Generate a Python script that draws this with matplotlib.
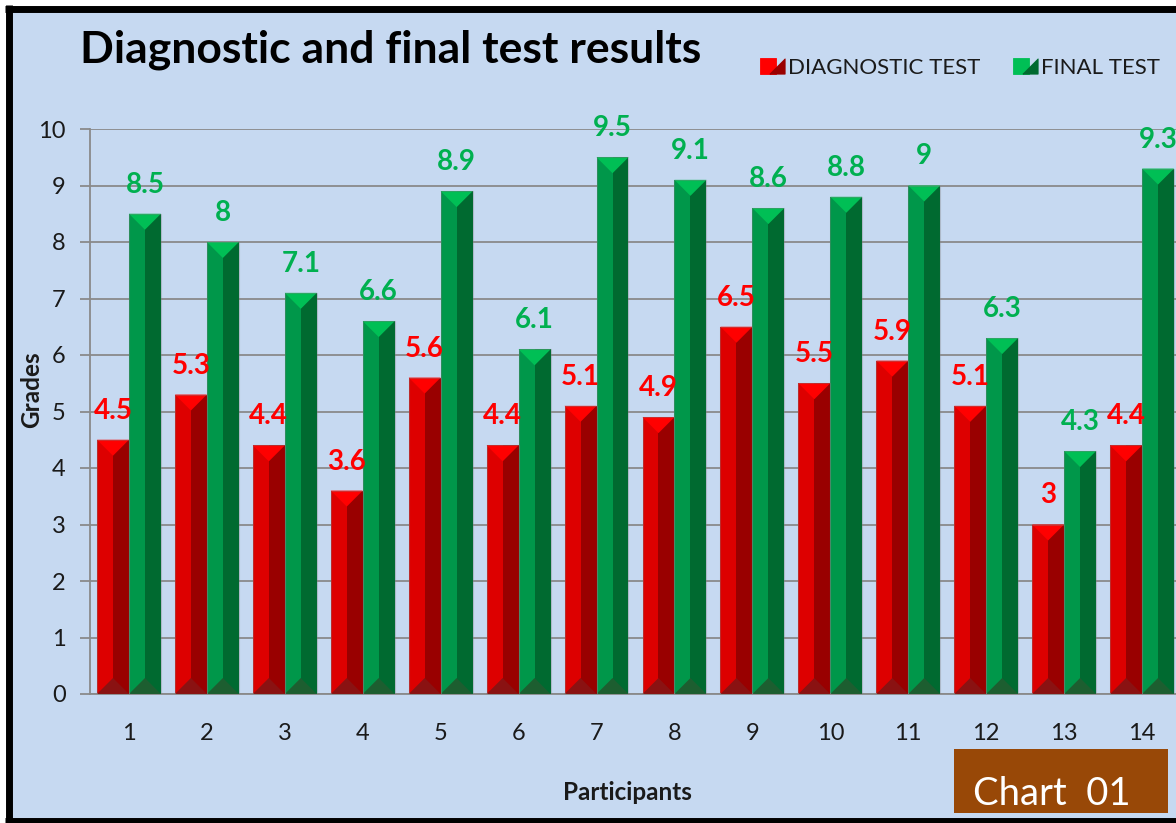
import matplotlib
matplotlib.use('Agg')
import matplotlib.pyplot as plt
import numpy as np
from matplotlib.patches import Rectangle
from matplotlib.lines import Line2D
from matplotlib.legend_handler import HandlerTuple

plt.rcParams['font.family'] = ['Lato', 'DejaVu Sans']

# ---------------- data ----------------
participants = ['1', '2', '3', '4', '5', '6', '7', '8', '9', '10', '11', '12', '13', '14']
diagnostic = [4.5, 5.3, 4.4, 3.6, 5.6, 4.4, 5.1, 4.9, 6.5, 5.5, 5.9, 5.1, 3.0, 4.4]
final = [8.5, 8.0, 7.1, 6.6, 8.9, 6.1, 9.5, 9.1, 8.6, 8.8, 9.0, 6.3, 4.3, 9.3]
series_names = ['DIAGNOSTIC TEST', 'FINAL TEST']
y_ticks = [0, 1, 2, 3, 4, 5, 6, 7, 8, 9, 10]

# ---------------- style ----------------
BG = '#c6d9f1'
GRID = '#8a8a8a'
TXT = '#1a1a1a'
RED = dict(light='#dd0000', dark='#990000', top='#ff0000', bottom='#8a1212', label='#ff0000')
GREEN = dict(light='#00974a', dark='#006a30', top='#00bf55', bottom='#1d5e30', label='#00b050')

W, H = 1176, 823
fig = plt.figure(figsize=(W / 100, H / 100), dpi=100)
fig.patch.set_facecolor('white')


def fx(px):
    return px / W


def fy(py):
    return 1 - py / H


# chart area background and black frame (top, left, bottom)
fig.add_artist(Rectangle((fx(8.5), fy(821)), 1.0, fy(8.5) - fy(821),
                         transform=fig.transFigure, facecolor=BG, edgecolor='none', zorder=0))
for xs, ys in [((5, 1176), (8.5, 8.5)), ((8.5, 8.5), (5, 823)), ((5, 1176), (821, 821))]:
    fig.add_artist(Line2D([fx(xs[0]), fx(xs[1])], [fy(ys[0]), fy(ys[1])],
                          transform=fig.transFigure, color='black', linewidth=5,
                          solid_capstyle='butt', zorder=1))

ax_l, ax_r, ax_t, ax_b = 90, 1181, 129, 694
ax = fig.add_axes([fx(ax_l), fy(ax_b), fx(ax_r) - fx(ax_l), fy(ax_t) - fy(ax_b)])
ax.set_facecolor('none')

n = len(participants)
x = np.arange(1, n + 1)
ax.set_xlim(0.5, n + 0.5)
ax.set_ylim(0, 10)

bw = 0.41
px_per_x = (ax_r - ax_l) / n
px_per_y = (ax_b - ax_t) / 10.0
d = (bw * px_per_x / 2) / px_per_y  # bevel depth in data units


def bevel_bars(centers, vals, c):
    ax.bar(centers, vals, width=bw, color=c['light'], zorder=2, linewidth=0)
    ax.bar(centers + bw / 4, vals, width=bw / 2, color=c['dark'], zorder=3, linewidth=0)
    for cx, v in zip(centers, vals):
        x0, x1 = cx - bw / 2, cx + bw / 2
        ax.fill([x0, x1, cx], [v, v, v - d], color=c['top'], zorder=4, linewidth=0)
        ax.fill([x0, x1, cx], [0, 0, d], color=c['bottom'], zorder=4, linewidth=0)
        ax.add_patch(Rectangle((x0, 0), bw, v, fill=False, edgecolor=(0.5, 0.5, 0.5, 0.35),
                               linewidth=0.8, zorder=5))
        ax.annotate(f'{v:g}', (cx, v), xytext=(0, 29), textcoords='offset pixels',
                    ha='center', va='center', color=c['label'], fontweight='bold',
                    fontsize=20, zorder=6)


bevel_bars(x - bw / 2, diagnostic, RED)
bevel_bars(x + bw / 2, final, GREEN)

# axes styling
ax.set_yticks(y_ticks)
ax.set_xticks(x)
ax.set_xticklabels(participants)
ax.yaxis.grid(True, color=GRID, linewidth=1.3, zorder=0)
ax.set_axisbelow(True)
for s in ['top', 'right']:
    ax.spines[s].set_visible(False)
for s in ['left', 'bottom']:
    ax.spines[s].set_color(GRID)
    ax.spines[s].set_linewidth(1.3)
ax.tick_params(axis='y', length=7.5, width=1.3, color=GRID, pad=10, labelsize=17, labelcolor=TXT)
ax.tick_params(axis='x', length=0, pad=21, labelsize=17, labelcolor=TXT)

ax.set_ylabel('Grades', fontweight='bold', fontsize=17.5, color=TXT, va='center')
ax.yaxis.set_label_coords((32 - ax_l) / (ax_r - ax_l), (ax_b - 390) / (ax_b - ax_t))
ax.set_xlabel('Participants', fontweight='bold', fontsize=17.5, color=TXT, va='center')
ax.xaxis.set_label_coords((627 - ax_l) / (ax_r - ax_l), -(792 - ax_b) / (ax_b - ax_t))

# title
fig.text(fx(80), fy(63), 'Diagnostic and final test results', fontsize=32,
         fontweight='bold', color='black', ha='left', va='baseline')

# legend (two-tone diagonal squares)
handles = []
for c in (RED, GREEN):
    h1 = Line2D([], [], marker='s', color='none', markerfacecolor=c['top'],
                markeredgecolor=c['top'], markeredgewidth=0.6, markersize=11)
    h2 = Line2D([], [], marker=[(-1, -1), (1, -1), (1, 1), (-1, -1)], color='none',
                markerfacecolor=c['dark'], markeredgecolor=c['dark'],
                markeredgewidth=0.6, markersize=11)
    handles.append((h1, h2))
fig.legend(handles, series_names, handler_map={tuple: HandlerTuple(ndivide=None, pad=0)},
           loc='center left', bbox_to_anchor=(fx(764), fy(68)), ncol=2, frameon=False,
           fontsize=16, handlelength=0.8, handletextpad=0.3, columnspacing=1.6,
           borderaxespad=0, borderpad=0, labelcolor=TXT)

# "Chart 01" box
fig.add_artist(Rectangle((fx(954), fy(813)), fx(1168) - fx(954), fy(749) - fy(813),
                         transform=fig.transFigure, facecolor='#984807', edgecolor='none', zorder=3))
fig.text(fx(973), fy(805), 'Chart  01', fontsize=27.5, color='white', ha='left', va='baseline', zorder=4)

fig.savefig('out.png', dpi=100, facecolor=fig.get_facecolor())
